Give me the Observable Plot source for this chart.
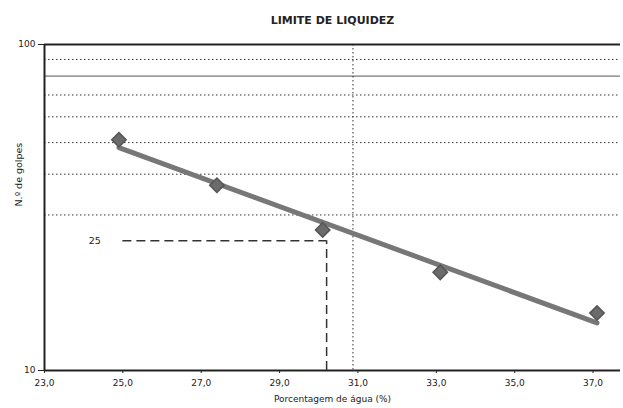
<!DOCTYPE html>
<html><head><meta charset="utf-8">
<script src="https://cdn.jsdelivr.net/npm/d3@7"></script>
<script src="https://cdn.jsdelivr.net/npm/@observablehq/plot@0.6"></script>
<style>
body{margin:0;background:#fff;}
#chart svg{font-family:"DejaVu Sans",Verdana,sans-serif;}
</style></head>
<body><div id="chart"></div>
<script>
// measured points
const agua = [24.9, 27.4, 30.1, 33.1, 37.1];
const golpes = [51, 37, 27, 20, 15];
// fitted trend line endpoints
const trendX = [24.9, 37.1];
const trendY = [48.3, 14.0];
// reference at 25 blows
const refBlows = 25;
const refX0 = 25.0;
const refWater = 30.2;
// grid
const hGridDotted = [30, 40, 50, 60, 70, 90];
const hGridSolid = [80];
const vGrid = [31];
const xTicks = [23, 25, 27, 29, 31, 33, 35, 37];
const yTicks = [10, 100];

const pts = agua.map((x, i) => ({x, y: golpes[i]}));
const trend = trendX.map((x, i) => ({x, y: trendY[i]}));
const fmt = d => d.toFixed(1).replace(".", ",");

const chart = Plot.plot({
  width: 623, height: 408,
  marginTop: 44, marginBottom: 38, marginLeft: 44, marginRight: 3,
  style: {fontSize: "9px", fontFamily: "'DejaVu Sans', Verdana, sans-serif", color: "#222"},
  x: {domain: [23, 37.7], ticks: xTicks, tickFormat: fmt, tickSize: 3, label: "Porcentagem de água (%)", labelAnchor: "center", labelOffset: 31, labelArrow: "none"},
  y: {type: "log", domain: [10, 100], ticks: yTicks, tickFormat: d => String(d), tickSize: 6, label: null},
  marks: [
    Plot.ruleY(hGridDotted, {stroke: "#333", strokeWidth: 1, strokeDasharray: "1.5,2.5"}),
    Plot.ruleY(hGridSolid, {stroke: "#555", strokeWidth: 1}),
    Plot.ruleX(vGrid, {stroke: "#333", strokeWidth: 1, strokeDasharray: "1.5,2.5", dx: -5}),
    Plot.ruleY([100], {stroke: "#222", strokeWidth: 2}),
    Plot.ruleY([10], {stroke: "#222", strokeWidth: 2}),
    Plot.ruleX([23], {stroke: "#222", strokeWidth: 2}),
    Plot.line(trend, {x: "x", y: "y", stroke: "#777", strokeWidth: 5}),
    Plot.ruleY([refBlows], {x1: refX0, x2: refWater, stroke: "#333", strokeWidth: 1.5, strokeDasharray: "9,5"}),
    Plot.ruleX([refWater], {y1: 10, y2: refBlows, stroke: "#333", strokeWidth: 1.5, strokeDasharray: "9,5"}),
    Plot.text([refBlows], {x: refX0, y: d => d, text: d => String(d), textAnchor: "end", dx: -22, fontSize: 9.5}),
    Plot.dot(pts, {x: "x", y: "y", symbol: "diamond2", r: 6.5, fill: "#6b6b6b", stroke: "#555"}),
    Plot.text(["LIMITE DE LIQUIDEZ"], {frameAnchor: "top", dy: -28, fontWeight: "bold", fontSize: 11, fill: "#222"}),
    Plot.text(["N.º de golpes"], {frameAnchor: "left", dx: -26, dy: -1, rotate: -90, fontSize: 9.5, fill: "#222"})
  ]
});
document.getElementById("chart").appendChild(chart);
</script></body></html>
